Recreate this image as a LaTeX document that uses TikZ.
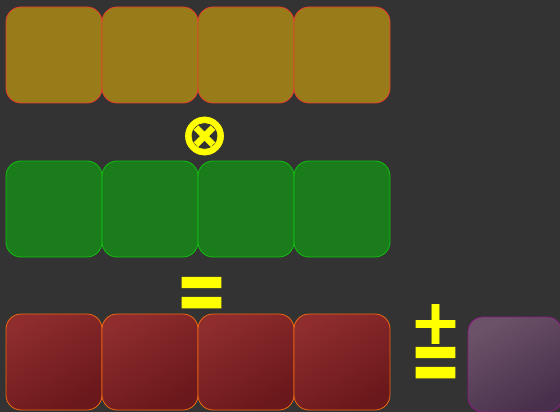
\documentclass[tikz,border=0pt]{standalone}
\usepackage{fontspec}
\newfontfamily\symfont[FakeBold=1.2]{DejaVu Sans Bold}
\definecolor{bg}{HTML}{333333}
\definecolor{goldfill}{HTML}{987C1A}
\definecolor{goldline}{HTML}{E8402A}
\definecolor{greenfill}{HTML}{1A7C1A}
\definecolor{greenline}{HTML}{12C012}
\definecolor{redlight}{HTML}{8E2C2E}
\definecolor{reddark}{HTML}{6A181B}
\definecolor{redline}{HTML}{F06A10}
\definecolor{purplelight}{HTML}{6C5268}
\definecolor{purpledark}{HTML}{48304C}
\definecolor{purpleline}{HTML}{8A1A80}
\definecolor{symyellow}{HTML}{FFFF00}
\tikzset{
  cell/.style={rectangle, rounded corners=15pt, minimum width=96pt, minimum height=96pt, inner sep=0pt, line width=0.8pt},
  goldcell/.style={cell, draw=goldline, fill=goldfill},
  greencell/.style={cell, draw=greenline, fill=greenfill},
  redcell/.style={cell, draw=redline, top color=redlight, bottom color=reddark, shading angle=30},
  purplecell/.style={cell, minimum width=94pt, minimum height=95pt, draw=purpleline, top color=purplelight, bottom color=purpledark, shading angle=30},
  opsym/.style={text=symyellow, inner sep=0pt}
}
\newcommand{\tallequals}{\scalebox{1}[1.45]{=}}

\begin{document}
\begin{tikzpicture}[x=1pt,y=-1pt]
  \clip (0,0) rectangle (560,412);
  \fill[bg] (0,0) rectangle (560,412);

  % first operand
  \node[goldcell] (a1) at (54,55) {};
  \node[goldcell] (a2) at (150,55) {};
  \node[goldcell] (a3) at (246,55) {};
  \node[goldcell] (a4) at (342,55) {};

  \node[opsym, font=\symfont\fontsize{58}{58}\selectfont] (times) at (204.5,136) {⊗};

  % second operand
  \node[greencell] (b1) at (54,209) {};
  \node[greencell] (b2) at (150,209) {};
  \node[greencell] (b3) at (246,209) {};
  \node[greencell] (b4) at (342,209) {};

  \node[opsym, font=\symfont\fontsize{62}{62}\selectfont] (equals) at (201.5,299) {\tallequals};

  % result
  \node[redcell] (c1) at (54,362) {};
  \node[redcell] (c2) at (150,362) {};
  \node[redcell] (c3) at (246,362) {};
  \node[redcell] (c4) at (342,362) {};

  \node[opsym, font=\symfont\fontsize{62}{62}\selectfont] (plus) at (435.5,324) {+};
  \node[opsym, font=\symfont\fontsize{62}{62}\selectfont] (plusequals) at (435.5,369) {\tallequals};
  \node[purplecell] (d) at (515,364.5) {};
\end{tikzpicture}
\end{document}
